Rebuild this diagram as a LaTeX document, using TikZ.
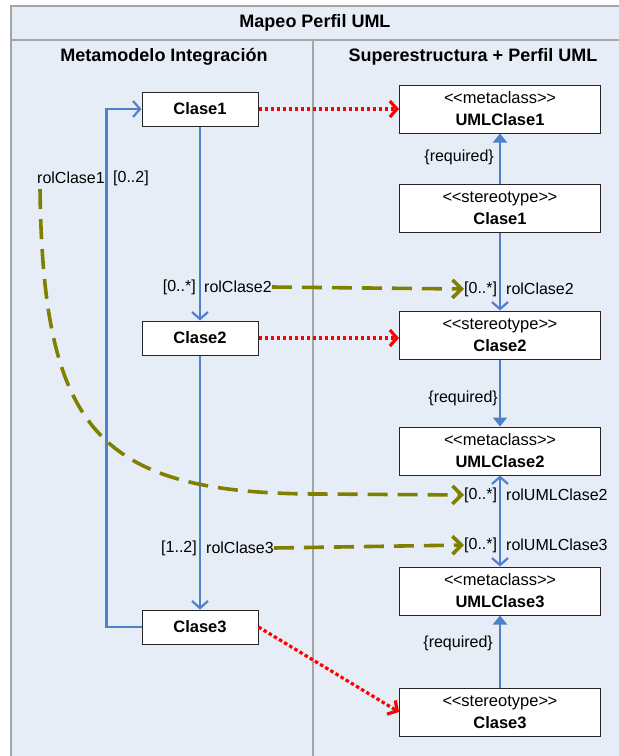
\documentclass[tikz,border=0pt]{standalone}
\usepackage{fontspec}
\setmainfont{Liberation Sans}[Ligatures=TeXOff]
\usetikzlibrary{arrows.meta}

\definecolor{panelbg}{HTML}{E7EDF7}
\definecolor{framegray}{HTML}{A5A5A5}
\definecolor{assocblue}{HTML}{4F81C9}
\definecolor{roleolive}{HTML}{808000}
\definecolor{mapred}{HTML}{FF0000}

% UML stereotype brackets written as two angle brackets each
\newcommand{\guil}[1]{<\kern-0.5pt<#1>\kern-0.5pt>}

\begin{document}
\begin{tikzpicture}[x=1pt,y=-1pt,
  cls/.style={draw=black!85, fill=white, line width=1pt, minimum width=116pt,
    minimum height=34pt, inner sep=0pt, font=\fontsize{16.5}{19}\selectfont\bfseries},
  prof/.style={draw=black!85, fill=white, line width=1pt, minimum width=201pt,
    minimum height=48pt, inner sep=0pt, align=center, font=\fontsize{16.5}{22}\selectfont},
  lbl/.style={inner sep=0pt, font=\fontsize{16}{19}\selectfont},
  head/.style={inner sep=0pt, font=\fontsize{18}{21}\selectfont\bfseries},
  assoc/.style={draw=assocblue, line width=2.2pt, -{Straight Barb[length=7pt,width=16pt]}},
  biassoc/.style={draw=assocblue, line width=2.2pt, {Straight Barb[length=7pt,width=16pt]}-{Straight Barb[length=7pt,width=16pt]}},
  ext/.style={draw=assocblue, line width=2.2pt, -{Triangle[length=9pt,width=14pt]}},
  mapping/.style={draw=mapred, line width=3.2pt, dash pattern=on 3.5pt off 2.5pt,
    -{Straight Barb[length=7pt,width=16pt]}},
  roleassoc/.style={draw=roleolive, line width=3.6pt, dash pattern=on 20pt off 10pt,
    -{Straight Barb[length=9pt,width=18pt]}}
]
\useasboundingbox (0,0) rectangle (619,756);

% frame and panels
\fill[white] (0,0) rectangle (619,756);
\draw[framegray, line width=2.2pt, fill=panelbg] (11,6) rectangle (630,770);
\draw[framegray, line width=2.2pt] (11,40) -- (630,40);
\draw[framegray, line width=2.2pt] (313,40) -- (313,770);

\node[head] (title) at (315,23) {Mapeo Perfil UML};
\node[head] (hleft) at (164,57) {Metamodelo Integración};
\node[head] (hright) at (473,57) {Superestructura + Perfil UML};

% integration metamodel classes
\node[cls] (c1) at (200,109) {Clase1};
\node[cls] (c2) at (200,338) {Clase2};
\node[cls] (c3) at (200,627) {Clase3};

% superstructure and profile elements
\node[prof] (m1) at (500,109) {\guil{metaclass}\\\textbf{UMLClase1}};
\node[prof] (s1) at (500,208) {\guil{stereotype}\\\textbf{Clase1}};
\node[prof] (s2) at (500,335) {\guil{stereotype}\\\textbf{Clase2}};
\node[prof] (m2) at (500,451) {\guil{metaclass}\\\textbf{UMLClase2}};
\node[prof] (m3) at (500,591) {\guil{metaclass}\\\textbf{UMLClase3}};
\node[prof] (s3) at (500,712) {\guil{stereotype}\\\textbf{Clase3}};

% role and multiplicity labels
\node[lbl, anchor=east] (r1a) at (105,178) {rolClase1};
\node[lbl, anchor=west] (r1b) at (113,178) {[0..2]};
\node[lbl, anchor=east] (r2m) at (196,287) {[0..*]};
\node[lbl, anchor=west] (r2a) at (204,287) {rolClase2};
\node[lbl, anchor=east] (r3m) at (197,548) {[1..2]};
\node[lbl, anchor=west] (r3a) at (206,548) {rolClase3};

\node[lbl, anchor=west] (q2m) at (464,289) {[0..*]};
\node[lbl, anchor=west] (q2a) at (506,289) {rolClase2};
\node[lbl, anchor=west] (u2m) at (464,495) {[0..*]};
\node[lbl, anchor=west] (u2a) at (506,495) {rolUMLClase2};
\node[lbl, anchor=west] (u3m) at (464,545) {[0..*]};
\node[lbl, anchor=west] (u3a) at (506,545) {rolUMLClase3};

\node[lbl, anchor=east] (req1) at (494,157) {\{required\}};
\node[lbl, anchor=east] (req2) at (498,398) {\{required\}};
\node[lbl, anchor=east] (req3) at (493,643) {\{required\}};

% associations in the integration metamodel
\draw[assoc] (c1.south) -- (c2.north);
\draw[assoc] (c2.south) -- (c3.north);
\draw[assoc] (c3.west) -- ++(-35,0) |- (c1.west);

% profile relations
\draw[ext] (s1.north) -- (m1.south);
\draw[assoc] (s1.south) -- (s2.north);
\draw[ext] (s2.south) -- (m2.north);
\draw[biassoc] (m2.south) -- (m3.north);
\draw[ext] (s3.north) -- (m3.south);

% mappings between classes
\draw[mapping] (c1.east) -- (m1.west);
\draw[mapping] (c2.east) -- (c2.east -| s2.west);
\draw[mapping] (c3.east) -- (s3.west);

% mappings between roles
\draw[roleassoc] (r2a.east) -- (q2m.west);
\draw[roleassoc] (r3a.east) -- (u3m.west);
\coordinate (r1start) at ([xshift=3pt,yshift=-5pt]r1a.south west);
\coordinate (r1bend) at (320,494);
\draw[roleassoc] (r1start) .. controls (43,431) and (98,494) .. (r1bend) -- (u2m.west);
\end{tikzpicture}
\end{document}
